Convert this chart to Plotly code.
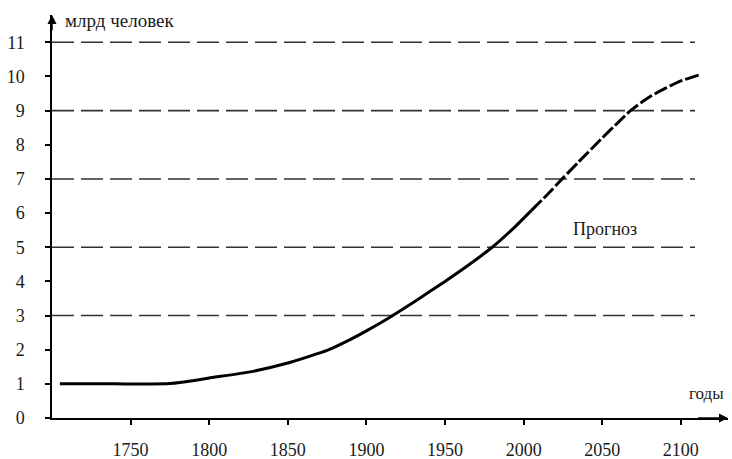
import plotly.graph_objects as go

# Data
hist_years = [1705, 1740, 1773, 1785, 1800, 1826, 1850, 1875, 1889, 1900, 1915, 1932, 1950, 1965, 1980, 1995, 2005]
hist_pop = [1.0, 1.0, 1.0, 1.06, 1.17, 1.35, 1.61, 1.98, 2.28, 2.55, 2.95, 3.45, 4.0, 4.48, 5.0, 5.62, 6.08]
fc_years = [2005, 2017, 2022, 2035, 2050, 2060, 2068, 2080, 2090, 2100, 2112]
fc_pop = [6.08, 6.63, 6.88, 7.5, 8.2, 8.65, 9.0, 9.4, 9.65, 9.87, 10.05]
grid_levels = [3, 5, 7, 9, 11]
grid_x = [1700, 2109]
x_ticks = [1750, 1800, 1850, 1900, 1950, 2000, 2050, 2100]
y_ticks = list(range(0, 12))

FONT = "Liberation Serif"
TXT = "#1a1a1a"

fig = go.Figure()

for lv in grid_levels:
    fig.add_trace(go.Scatter(x=grid_x, y=[lv, lv], mode="lines",
                             line=dict(color="#333333", width=1.6, dash="22px,7px"),
                             hoverinfo="skip", showlegend=False))

fig.add_trace(go.Scatter(x=hist_years, y=hist_pop, mode="lines",
                         line=dict(color="black", width=3, shape="spline", smoothing=0.4),
                         showlegend=False))
fig.add_trace(go.Scatter(x=fc_years, y=fc_pop, mode="lines",
                         line=dict(color="black", width=3, shape="spline", smoothing=0.6, dash="14px,3px"),
                         showlegend=False))

fig.update_layout(
    width=732, height=459,
    margin=dict(l=52, r=4, t=15, b=41),
    paper_bgcolor="white", plot_bgcolor="white",
    font=dict(family=FONT, size=17, color=TXT),
    xaxis=dict(range=[1700, 2130], tickvals=x_ticks, ticktext=[str(v) for v in x_ticks],
               showgrid=False, zeroline=False, showline=True, linecolor="black", linewidth=1.5,
               ticks="outside", ticklen=5, tickcolor="black", tickwidth=1.5, automargin=False,
               ticklabelstandoff=10, tickfont=dict(family=FONT, size=18, color=TXT)),
    yaxis=dict(range=[0, 11.8], tickvals=y_ticks, automargin=False,
               showgrid=False, zeroline=False, showline=True, linecolor="black", linewidth=1.5,
               ticks="outside", ticklen=5, tickcolor="black", tickwidth=1.5,
               ticklabelstandoff=17, tickfont=dict(family=FONT, size=18, color=TXT)),
)

# axis arrows
fig.add_annotation(x=1700, y=11.8, ax=1700, ay=11.3, xref="x", yref="y", axref="x", ayref="y",
                   showarrow=True, arrowhead=2, arrowsize=1.2, arrowwidth=1.5, arrowcolor="black", text="")
fig.add_annotation(x=2130, y=0, ax=2110, ay=0, xref="x", yref="y", axref="x", ayref="y",
                   showarrow=True, arrowhead=2, arrowsize=1.2, arrowwidth=1.5, arrowcolor="black", text="")

fig.add_annotation(x=1707, y=11.65, xref="x", yref="y", text="млрд человек", showarrow=False,
                   xanchor="left", yanchor="middle", font=dict(family=FONT, size=19, color=TXT))
fig.add_annotation(x=0.997, y=0.73, xref="paper", yref="y", text="годы", showarrow=False,
                   xanchor="right", yanchor="middle", font=dict(family=FONT, size=17, color=TXT))
fig.add_annotation(x=2052, y=5.54, xref="x", yref="y", text="Прогноз", showarrow=False,
                   xanchor="center", yanchor="middle", font=dict(family=FONT, size=18, color=TXT))

fig.write_html("out.html", config={"displayModeBar": False},
               post_script="document.body.style.margin='0px';document.body.style.padding='0px';")
